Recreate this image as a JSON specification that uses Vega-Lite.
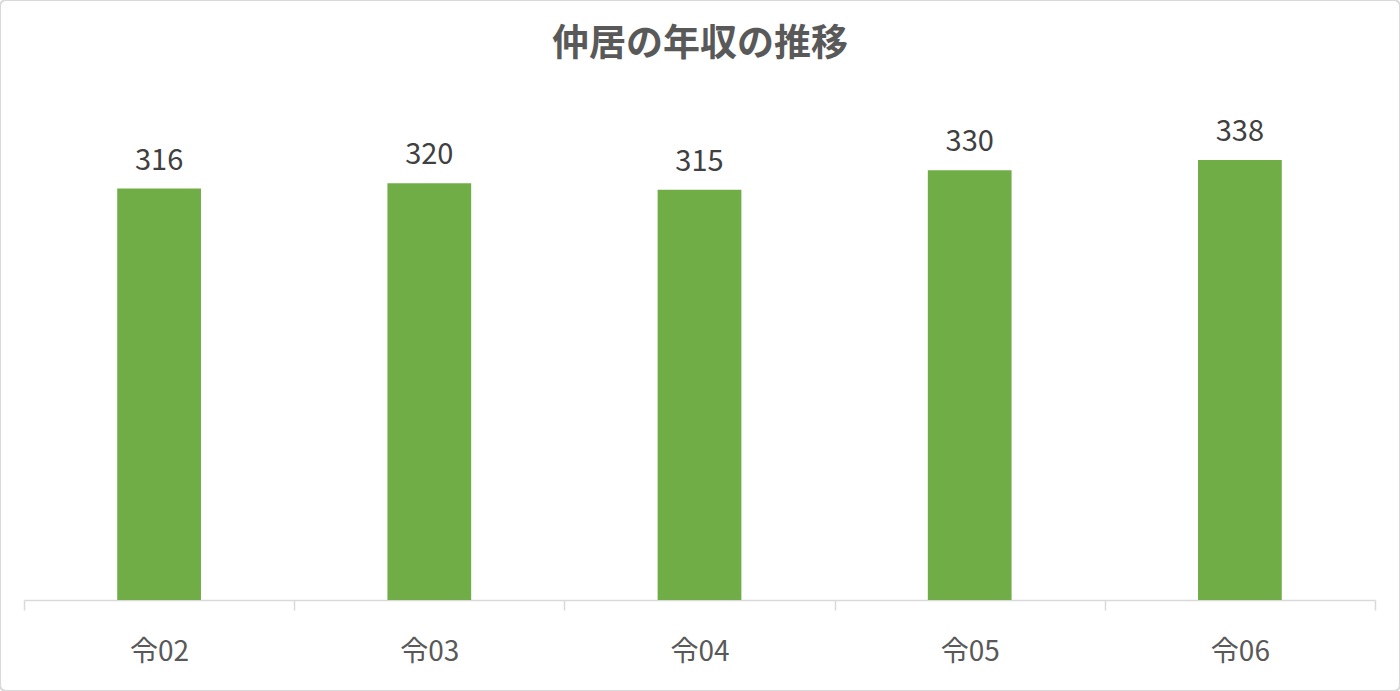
{
  "$schema": "https://vega.github.io/schema/vega-lite/v6.json",
  "description": "仲居の年収の推移",
  "width": 1400,
  "height": 691,
  "autosize": "none",
  "padding": 0,
  "background": "#ffffff",
  "title": {
    "text": "仲居の年収の推移",
    "font": "Noto Sans CJK JP",
    "fontSize": 37,
    "fontWeight": "bold",
    "color": "#595959",
    "anchor": "middle",
    "baseline": "middle",
    "offset": -45,
    "dy": 37
  },
  "data": {
    "values": [
      {"year": "令02", "income": 316},
      {"year": "令03", "income": 320},
      {"year": "令04", "income": 315},
      {"year": "令05", "income": 330},
      {"year": "令06", "income": 338}
    ]
  },
  "encoding": {
    "x": {
      "field": "year",
      "type": "nominal",
      "sort": null,
      "scale": {"range": [24, 1375], "paddingInner": 0, "paddingOuter": 0},
      "axis": {
        "title": null,
        "orient": "bottom",
        "offset": -91,
        "tickBand": "extent",
        "tickSize": 10,
        "tickWidth": 1.5,
        "tickColor": "#d9d9d9",
        "domainColor": "#d9d9d9",
        "domainWidth": 1.5,
        "labelAngle": 0,
        "labelFont": "Noto Sans CJK JP",
        "labelFontSize": 28,
        "labelColor": "#595959",
        "labelPadding": 28
      }
    },
    "y": {
      "field": "income",
      "type": "quantitative",
      "scale": {"domain": [-69.89, 460.83], "nice": false},
      "axis": null
    }
  },
  "layer": [
    {
      "mark": {"type": "bar", "color": "#70ad47", "width": {"band": 0.31}}
    },
    {
      "mark": {
        "type": "text",
        "dy": -19,
        "baseline": "alphabetic",
        "font": "Noto Sans CJK JP",
        "fontSize": 29,
        "color": "#404040"
      },
      "encoding": {"text": {"field": "income", "type": "quantitative"}}
    }
  ],
  "config": {
    "view": {"stroke": "#d9d9d9", "strokeWidth": 2, "cornerRadius": 6, "fill": "#ffffff"}
  }
}
